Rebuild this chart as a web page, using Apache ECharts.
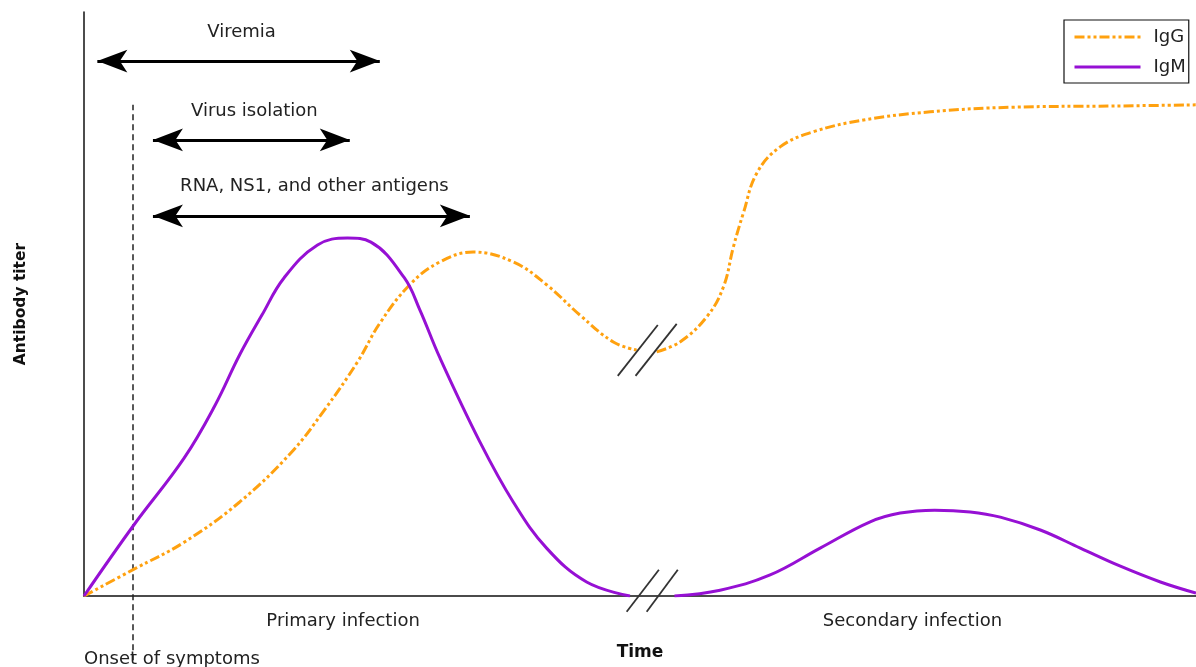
<!DOCTYPE html>
<html>
<head>
<meta charset="utf-8">
<script src="https://cdn.jsdelivr.net/npm/echarts@6/dist/echarts.min.js"></script>
<style>
  html, body { margin: 0; padding: 0; background: #fff; }
  #main { width: 1196px; height: 667px; }
</style>
</head>
<body>
<div id="main"></div>
<script>
// time runs 0..100 across the plot, titer 0..100 up the plot
var igmPrimary = [[0,0],[4.5,12.2],[9.0,23.6],[11.8,32.7],[14.0,41.3],[16.0,48.1],[18.0,54.5],[21.0,60.1],
  [23.7,61.3],[25.8,60.6],[28.8,54.5],[30.2,49.0],[32.0,40.8],[35.6,26.4],[38.6,16.1],[41.6,8.2],[45.2,2.4],[49.1,0]];
var igmSecondary = [[53.1,0],[57.2,1.0],[61.7,3.6],[66.2,8.2],[70.7,12.7],[73.4,14.2],[76.5,14.7],
  [79.7,14.4],[82.4,13.5],[86.0,11.3],[89.6,8.2],[93.2,5.1],[96.8,2.4],[100,0.5]];
var iggPrimary = [[0,0],[4.5,4.6],[9.0,9.2],[14.0,16.1],[18.6,24.5],[21.6,31.8],[24.6,40.1],[26.6,46.7],
  [29.3,53.3],[32.0,57.2],[35.0,58.9],[38.6,57.2],[41.6,53.3],[44.6,48.1],[47.6,43.5],[49.7,42.1]];
var iggSecondary = [[51.5,41.8],[53.6,43.5],[56.0,47.8],[57.5,52.9],[58.4,59.8],[59.3,65.6],[60.5,72.4],
  [62.6,76.9],[65.6,79.5],[70.1,81.5],[76.1,82.9],[83.5,83.7],[92.5,83.9],[100,84.1]];

// time windows drawn as double arrows: [start, end, height]
var windowNames = ['Viremia', 'Virus isolation', 'RNA, NS1, and other antigens'];
var windowSpans = [[1.2, 26.6, 91.6], [6.2, 23.9, 78.1], [6.2, 34.7, 65.1]];

var onsetX = 4.4;
var onsetSpan = [-11.0, 84.1];

// axis-break slashes
var breakMarks = [
  [[48.0,37.7],[51.6,46.4]], [[49.6,37.7],[53.3,46.6]],
  [[48.8,-2.7],[51.7,4.5]], [[50.6,-2.7],[53.4,4.5]]
];

var IGG_COLOR = '#FFA10F';
var IGM_COLOR = '#9610D4';
var FONT = 'DejaVu Sans';

var chart = echarts.init(document.getElementById('main'));

var arrowData = windowSpans.map(function (w) {
  return { coords: [[w[0], w[2]], [w[1], w[2]]] };
});

var option = {
  backgroundColor: '#fff',
  animation: false,
  textStyle: { fontFamily: FONT },
  grid: { left: 84, right: 0, top: 12, bottom: 71, containLabel: false, outerBoundsMode: 'none' },
  legend: {
    orient: 'vertical',
    left: 1064,
    top: 20,
    padding: [8, 3, 7, 9],
    itemWidth: 66,
    itemHeight: 14,
    itemGap: 12,
    borderColor: '#111',
    borderWidth: 1.2,
    data: ['IgG', 'IgM'],
    itemStyle: { opacity: 0 },
    lineStyle: { width: 3 },
    textStyle: { fontFamily: FONT, fontSize: 18, lineHeight: 16, color: '#222', padding: [0, 0, 0, 8] }
  },
  xAxis: {
    type: 'value',
    min: 0,
    max: 100,
    name: 'Time',
    nameLocation: 'middle',
    nameGap: 48,
    nameTextStyle: { fontFamily: FONT, fontSize: 17, fontWeight: 'bold', color: '#111' },
    axisLine: { lineStyle: { color: '#111', width: 1.5 } },
    axisTick: { show: false },
    axisLabel: { show: false },
    splitLine: { show: false }
  },
  yAxis: {
    type: 'value',
    min: 0,
    max: 100,
    name: 'Antibody titer',
    nameLocation: 'middle',
    nameGap: 55,
    nameRotate: 90,
    nameTextStyle: { fontFamily: FONT, fontSize: 15.5, fontWeight: 'bold', color: '#111' },
    axisLine: { show: true, lineStyle: { color: '#111', width: 1.5 } },
    axisTick: { show: false },
    axisLabel: { show: false },
    splitLine: { show: false }
  },
  series: [
    {
      name: 'IgG', type: 'line', data: iggPrimary, smooth: 0.4, symbol: 'none',
      lineStyle: { color: IGG_COLOR, width: 3, type: [10, 3, 3, 3, 3, 3] },
      itemStyle: { color: IGG_COLOR }, z: 3
    },
    {
      name: 'IgG', type: 'line', data: iggSecondary, smooth: 0.4, symbol: 'none',
      lineStyle: { color: IGG_COLOR, width: 3, type: [10, 3, 3, 3, 3, 3] },
      itemStyle: { color: IGG_COLOR }, z: 3
    },
    {
      name: 'IgM', type: 'line', data: igmPrimary, smooth: 0.4, symbol: 'none',
      lineStyle: { color: IGM_COLOR, width: 3 }, itemStyle: { color: IGM_COLOR }, z: 4
    },
    {
      name: 'IgM', type: 'line', data: igmSecondary, smooth: 0.4, symbol: 'none',
      lineStyle: { color: IGM_COLOR, width: 3 }, itemStyle: { color: IGM_COLOR }, z: 4
    },
    {
      // time-window arrows
      type: 'lines', coordinateSystem: 'cartesian2d', clip: false, silent: true,
      symbol: ['arrow', 'arrow'], symbolSize: [[17, 30], [17, 30]],
      lineStyle: { color: '#000', width: 3, opacity: 1 },
      data: arrowData, z: 5
    },
    {
      // onset of symptoms
      type: 'lines', coordinateSystem: 'cartesian2d', clip: false, silent: true,
      lineStyle: { color: '#222', width: 1.5, type: [6, 4], opacity: 1 },
      data: [{ coords: [[onsetX, onsetSpan[0]], [onsetX, onsetSpan[1]]] }], z: 2
    },
    {
      // axis breaks
      type: 'lines', coordinateSystem: 'cartesian2d', clip: false, silent: true,
      lineStyle: { color: '#333', width: 1.8, opacity: 1 },
      data: breakMarks.map(function (m) { return { coords: m }; }), z: 6
    }
  ]
};
chart.setOption(option);

// labels: window names sit above their arrows, phase names under the axis
var graphics = [];
windowSpans.forEach(function (w, i) {
  var p = chart.convertToPixel({ gridIndex: 0 }, [(w[0] + w[1]) / 2, w[2]]);
  graphics.push({
    type: 'text', x: p[0] + 3, y: p[1] - 29,
    style: { text: windowNames[i], font: '18px "DejaVu Sans"', fill: '#222',
      textAlign: 'center', textVerticalAlign: 'middle' }
  });
});
var phaseNames = [['Primary infection', 23.3], ['Secondary infection', 74.5]];
phaseNames.forEach(function (ph) {
  var p = chart.convertToPixel({ gridIndex: 0 }, [ph[1], 0]);
  graphics.push({
    type: 'text', x: p[0], y: p[1] + 25,
    style: { text: ph[0], font: '18px "DejaVu Sans"', fill: '#222',
      textAlign: 'center', textVerticalAlign: 'middle' }
  });
});
var o = chart.convertToPixel({ gridIndex: 0 }, [0, 0]);
graphics.push({
  type: 'text', x: o[0], y: o[1] + 63,
  style: { text: 'Onset of symptoms', font: '18px "DejaVu Sans"', fill: '#222',
    textAlign: 'left', textVerticalAlign: 'middle' }
});
chart.setOption({ graphic: graphics });
</script>
</body>
</html>
